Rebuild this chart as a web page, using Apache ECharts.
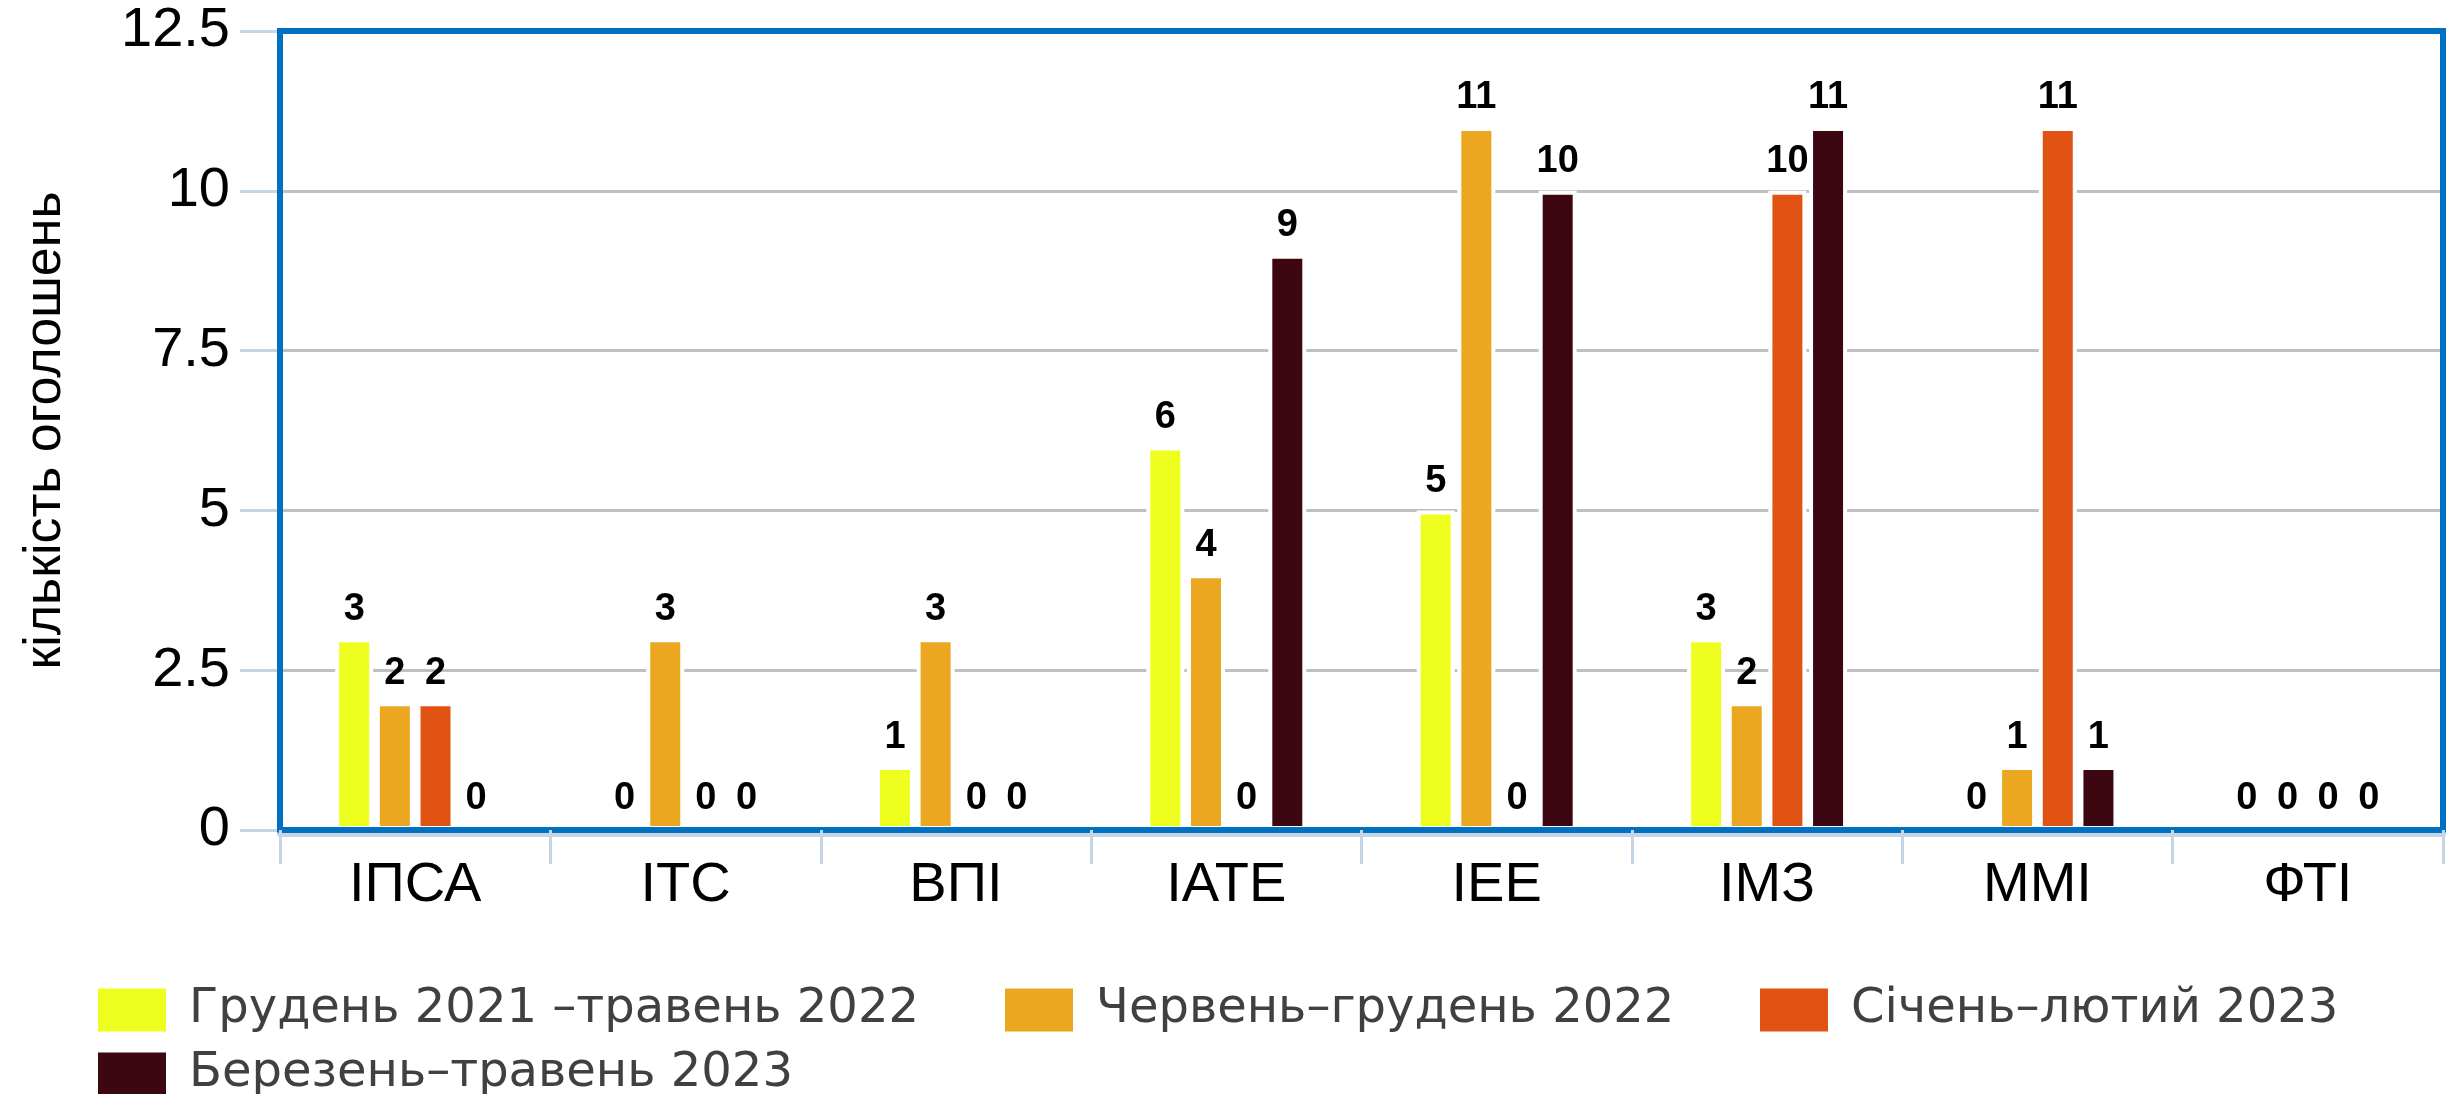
<!DOCTYPE html>
<html>
<head>
<meta charset="utf-8">
<script src="https://cdn.jsdelivr.net/npm/echarts@6/dist/echarts.min.js"></script>
<style>
html,body{margin:0;padding:0;background:#fff;}
#chart{width:2446px;height:1094px;}
</style>
</head>
<body>
<div id="chart"></div>
<script>
const categories = ['ІПСА', 'ІТС', 'ВПІ', 'ІАТЕ', 'ІЕЕ', 'ІМЗ', 'ММІ', 'ФТІ'];
const seriesNames = ['Грудень 2021 –травень 2022', 'Червень–грудень 2022', 'Січень–лютий 2023', 'Березень–травень 2023'];
const dec21May22 = [3, 0, 1, 6, 5, 3, 0, 0];
const junDec22 = [2, 3, 3, 4, 11, 2, 1, 0];
const janFeb23 = [2, 0, 0, 0, 0, 10, 11, 0];
const marMay23 = [0, 0, 0, 9, 10, 11, 1, 0];
const yTicks = [0, 2.5, 5, 7.5, 10, 12.5];
const colors = ['#eeff1f', '#eba71f', '#e05313', '#3c0711'];

const values = [dec21May22, junDec22, janFeb23, marMay23];
const chart = echarts.init(document.getElementById('chart'), null, {renderer: 'canvas'});

const axisFont = 'Liberation Sans, Arial, sans-serif';
const legendFont = 'DejaVu Sans, sans-serif';

function legendAt(i, left, top) {
  return {
    data: [seriesNames[i]],
    left: left, top: top, padding: 0,
    icon: 'rect', itemWidth: 68, itemHeight: 43,
    itemStyle: {borderWidth: 0},
    selectedMode: false,
    textStyle: {fontFamily: legendFont, fontSize: 48, color: '#404040', padding: [0, 0, 0, 18]}
  };
}

chart.setOption({
  animation: false,
  backgroundColor: '#ffffff',
  grid: {
    left: 280, top: 31, right: 3, bottom: 264,
    show: true, borderColor: '#0070c0', borderWidth: 6, z: 1
  },
  legend: [
    legendAt(0, 98, 986),
    legendAt(1, 1005, 986),
    legendAt(2, 1760, 986),
    legendAt(3, 98, 1050)
  ],
  xAxis: {
    type: 'category',
    data: categories,
    z: 10,
    axisLine: {show: true, lineStyle: {color: '#0070c0', width: 6, shadowColor: '#c5d5e6', shadowOffsetY: 4, shadowBlur: 0}},
    axisTick: {show: true, length: 34, lineStyle: {color: '#c5d5e6', width: 3}},
    axisLabel: {fontFamily: axisFont, fontSize: 56, color: '#000', margin: 28},
    splitLine: {show: false}
  },
  yAxis: {
    type: 'value',
    min: 0, max: 12.5, interval: 2.5,
    name: 'кількість оголошень',
    nameLocation: 'middle',
    nameGap: 208,
    nameTextStyle: {fontFamily: axisFont, fontSize: 52, color: '#000'},
    axisLine: {show: false},
    axisTick: {show: true, length: 40, lineStyle: {color: '#c5d5e6', width: 3}},
    axisLabel: {
      fontFamily: axisFont, fontSize: 56, color: '#000', margin: 50,
      formatter: function (v) { return yTicks.indexOf(v) >= 0 ? String(v) : ''; }
    },
    splitLine: {show: true, lineStyle: {color: '#c0c0c0', width: 3}}
  },
  series: values.map(function (vals, i) {
    return {
      name: seriesNames[i],
      type: 'bar',
      data: vals,
      barWidth: 38,
      barGap: '7%',
      itemStyle: {color: colors[i], borderColor: '#ffffff', borderWidth: 4},
      emphasis: {disabled: true},
      label: {
        show: true, position: 'top', distance: 10,
        fontFamily: axisFont, fontSize: 38, fontWeight: 'bold', color: '#000'
      }
    };
  })
});
</script>
</body>
</html>
